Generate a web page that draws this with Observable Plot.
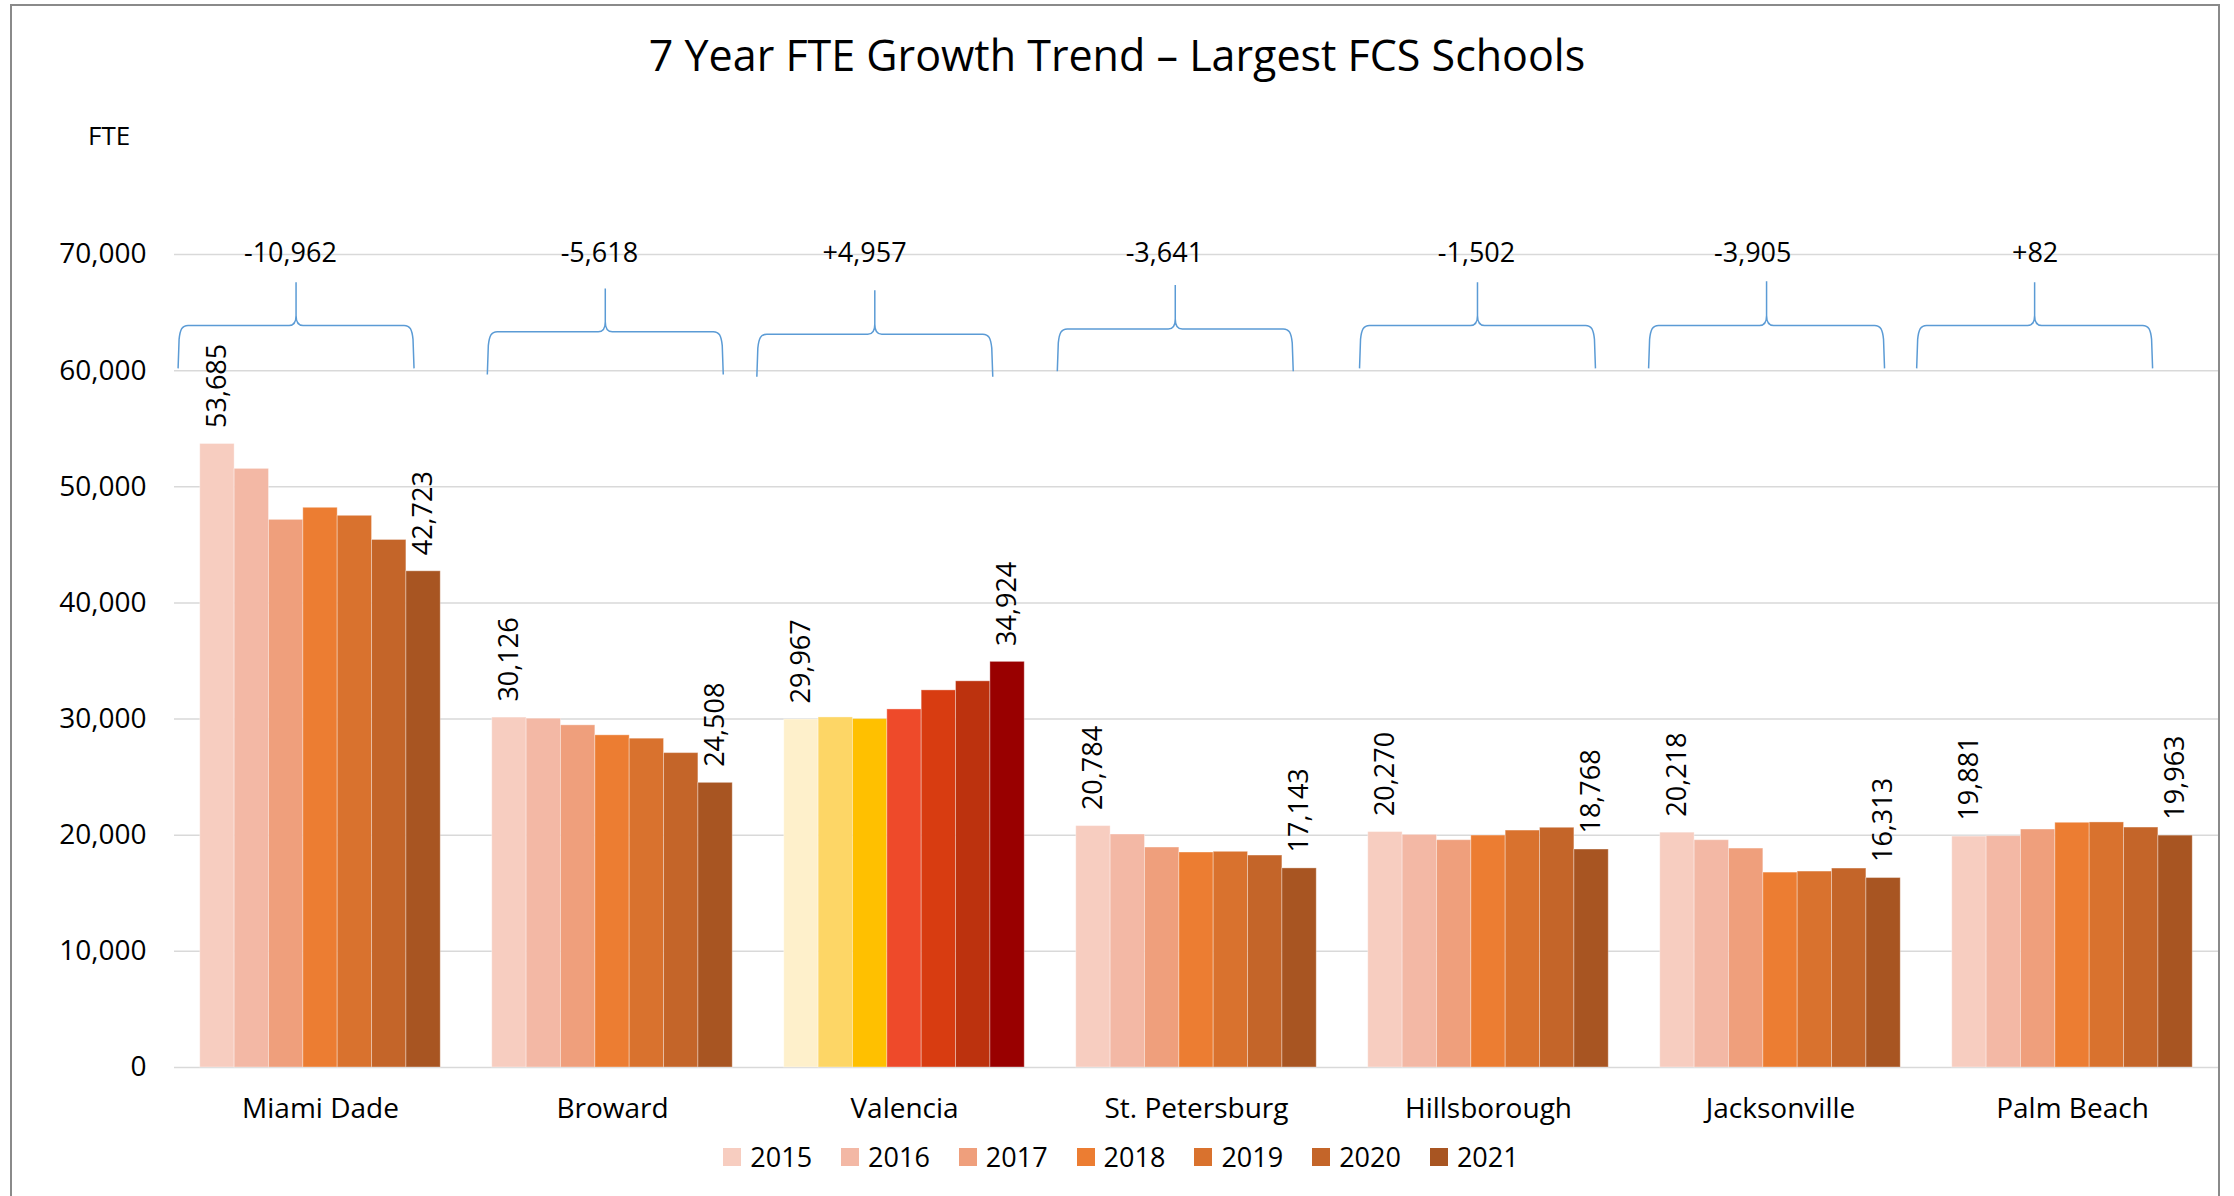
<!DOCTYPE html>
<html>
<head>
<meta charset="utf-8">
<script src="https://cdn.jsdelivr.net/npm/d3@7"></script>
<script src="https://cdn.jsdelivr.net/npm/@observablehq/plot@0.6"></script>
<style>
  html, body { margin: 0; padding: 0; background: #fff; overflow: hidden; }
  #wrap { position: relative; width: 2234px; height: 1196px; font-family: "Open Sans", sans-serif; color: #000; }
  #frame { position: absolute; left: 10px; top: 4px; width: 2210px; height: 1300px; border: 2px solid #8a8a8a; box-sizing: border-box; }
  #title { position: absolute; left: 0; top: 34px; width: 2234px; text-align: center; font-size: 43px; line-height: 42px; }
  #ylabel { position: absolute; left: 88px; top: 122px; font-size: 26px; line-height: 26px; }
  #chart { position: absolute; left: 0; top: 150px; }
  #legend { position: absolute; left: 4px; top: 1139px; width: 2234px; height: 36px; display: flex; justify-content: center; align-items: center; gap: 29px; font-size: 27px; line-height: 36px; }
  #legend .item { display: flex; align-items: center; gap: 9px; }
  #legend .sw { width: 18px; height: 18px; display: inline-block; }
</style>
</head>
<body>
<div id="wrap">
  <div id="frame"></div>
  <div id="title">7 Year FTE Growth Trend – Largest FCS Schools</div>
  <div id="ylabel">FTE</div>
  <div id="chart"></div>
  <div id="legend"></div>
</div>
<script>
// ---- data ----
const schools = ["Miami Dade", "Broward", "Valencia", "St. Petersburg", "Hillsborough", "Jacksonville", "Palm Beach"];
const years = ["2015", "2016", "2017", "2018", "2019", "2020", "2021"];

const fte2015 = [53685, 30126, 29967, 20784, 20270, 20218, 19881];
const fte2016 = [51540, 30030, 30140, 20060, 20030, 19570, 19920];
const fte2017 = [47150, 29460, 30000, 18940, 19570, 18850, 20490];
const fte2018 = [48190, 28600, 30830, 18510, 19970, 16780, 21070];
const fte2019 = [47500, 28310, 32470, 18570, 20400, 16870, 21100];
const fte2020 = [45420, 27070, 33250, 18250, 20640, 17130, 20660];
const fte2021 = [42723, 24508, 34924, 17143, 18768, 16313, 19963];

const yTicks = [0, 10000, 20000, 30000, 40000, 50000, 60000, 70000];

const orangeColors = ["#F7CDC0", "#F3B8A5", "#EF9F7C", "#EC7D32", "#D9722E", "#C46529", "#A85522"];
const valenciaColors = ["#FEF0CB", "#FDD666", "#FFC000", "#EE4A2A", "#D83C11", "#BC320E", "#990000"];

// brace annotations (x in school-group units, y in FTE units)
const braceCenter = [0.418, 1.477, 2.400, 3.429, 4.464, 5.454, 6.372];
const braceBottom = [60150, 59630, 59430, 59900, 60150, 60150, 60150];
const braceMid    = [63850, 63310, 63100, 63550, 63850, 63850, 63850];
const braceTop    = [67570, 67040, 66870, 67330, 67570, 67660, 67570];
const diffLabelX  = [0.397, 1.455, 2.363, 3.390, 4.459, 5.405, 6.372];

// ---- build table ----
const series = [fte2015, fte2016, fte2017, fte2018, fte2019, fte2020, fte2021];
const barW = 1 / 8.5; // bar width in group units (Excel gap width 150%)
const rows = [];
schools.forEach((s, i) => {
  years.forEach((yr, j) => {
    const x1 = i + 0.75 * barW + j * barW;
    rows.push({
      school: s, year: yr, i, j,
      value: series[j][i],
      x1, x2: x1 + barW, xc: x1 + barW / 2,
      color: (s === "Valencia" ? valenciaColors : orangeColors)[j]
    });
  });
});
const fmt = d3.format(",d");
const diffs = schools.map((s, i) => fte2021[i] - fte2015[i]);
const diffText = v => (v >= 0 ? "+" : "-") + fmt(Math.abs(v));

function braces(index, scales) {
  const x = scales.x, y = scales.y;
  const g = d3.create("svg:g")
    .attr("fill", "none")
    .attr("stroke", "#5B9BD5")
    .attr("stroke-width", 1.5);
  const half = 0.404;
  schools.forEach((s, i) => {
    const cx = x(braceCenter[i]), L = x(braceCenter[i] - half), R = x(braceCenter[i] + half);
    const yb = y(braceBottom[i]), ym = y(braceMid[i]), yt = y(braceTop[i]);
    const p = d3.path();
    p.moveTo(L, yb);
    p.lineTo(L + 1, ym + 14);
    p.bezierCurveTo(L + 2, ym + 4, L + 4, ym, L + 10, ym);
    p.lineTo(cx - 7, ym);
    p.bezierCurveTo(cx - 2, ym, cx, ym - 4, cx, ym - 10);
    p.lineTo(cx, yt);
    p.moveTo(cx, ym - 10);
    p.bezierCurveTo(cx, ym - 4, cx + 2, ym, cx + 7, ym);
    p.lineTo(R - 10, ym);
    p.bezierCurveTo(R - 4, ym, R - 2, ym + 4, R - 1, ym + 14);
    p.lineTo(R, yb);
    g.append("path").attr("d", p.toString());
  });
  return g.node();
}

const chart = Plot.plot({
  width: 2234,
  height: 977,
  marginLeft: 174,
  marginRight: 16,
  marginTop: 104,
  marginBottom: 60,
  style: { fontFamily: "Open Sans, sans-serif", fontSize: "28px", color: "#000", background: "transparent" },
  x: {
    domain: [0, 7],
    ticks: schools.map((s, i) => i + 0.5),
    tickFormat: d => schools[Math.floor(d)],
    tickSize: 0,
    tickPadding: 31,
    label: null
  },
  y: {
    domain: [0, 70000],
    ticks: yTicks,
    tickFormat: d => fmt(d),
    tickSize: 0,
    tickPadding: 28,
    label: null
  },
  marks: [
    Plot.ruleY(yTicks, { stroke: "#d9d9d9", strokeWidth: 1.5 }),
    Plot.rect(rows, {
      x1: "x1", x2: "x2", y1: 0, y2: "value",
      fill: "color", stroke: "#ffffff", strokeOpacity: 0.35, strokeWidth: 1
    }),
    Plot.text(rows.filter(d => d.j === 0 || d.j === 6), {
      x: "xc", y: "value",
      text: d => fmt(d.value),
      rotate: -90, textAnchor: "start", lineAnchor: "middle",
      dy: -16, fontSize: 27, fill: "#000"
    }),
    braces,
    Plot.text(schools, {
      x: (d, i) => diffLabelX[i], y: () => 70000,
      text: (d, i) => diffText(diffs[i]),
      dy: -1, fontSize: 27, fill: "#000"
    })
  ]
});
document.getElementById("chart").appendChild(chart);

// legend
const legend = d3.select("#legend");
years.forEach((yr, j) => {
  const item = legend.append("div").attr("class", "item");
  item.append("span").attr("class", "sw").style("background", orangeColors[j]);
  item.append("span").text(yr);
});
</script>
</body>
</html>
